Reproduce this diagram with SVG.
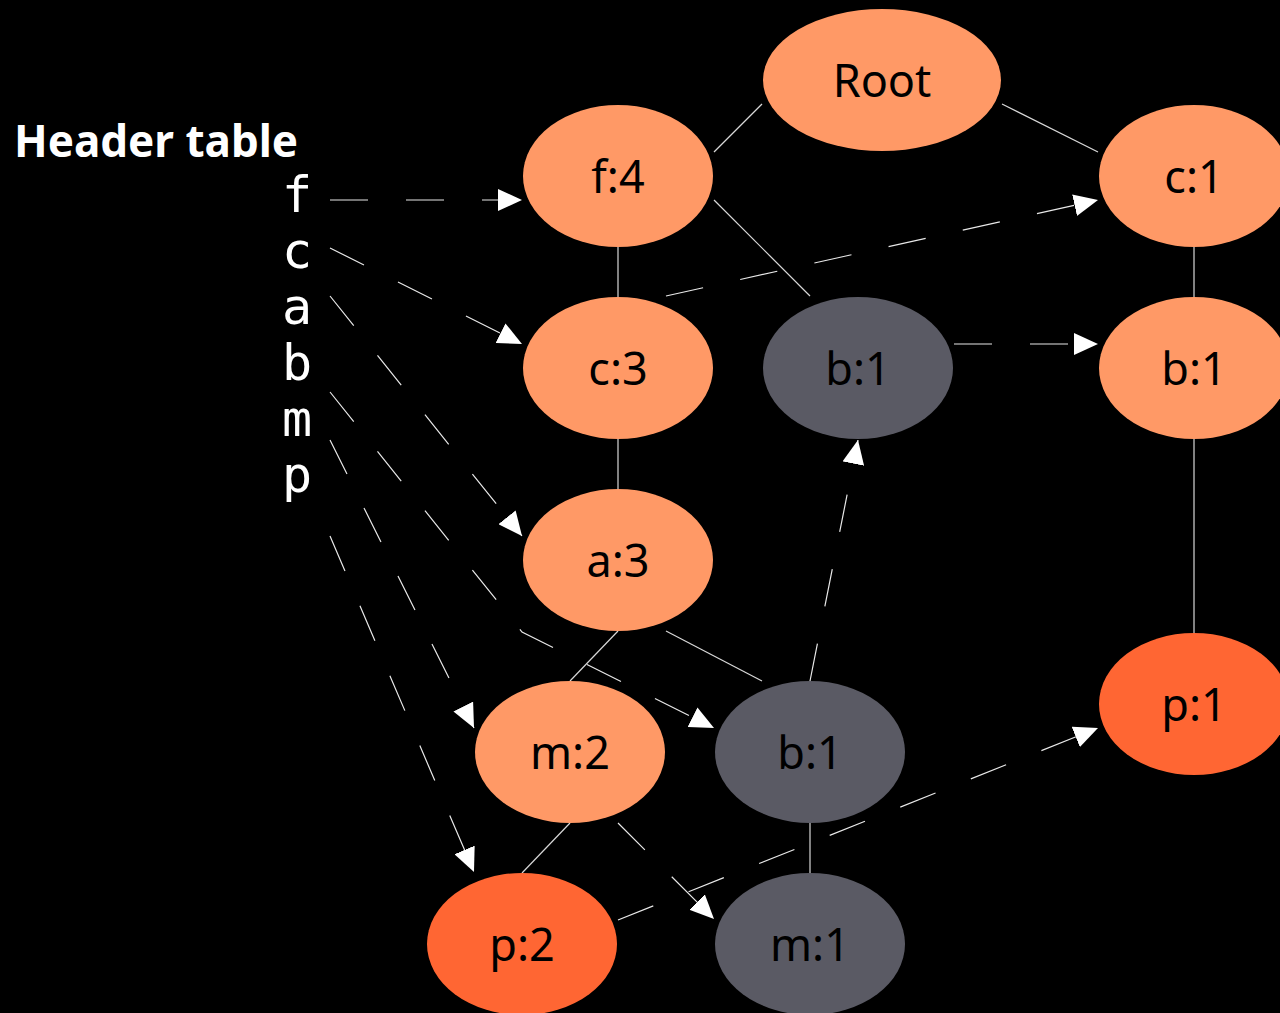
<svg xmlns="http://www.w3.org/2000/svg" width="1280" height="1013" viewBox="0 0 1280 1013">
  <style>
    .item { fill: #FF9966; }
    .leaf { fill: #FF6633; }
    .shadow { fill: #5A5A64; }
    .label { font-family: "Noto Sans", "DejaVu Sans", sans-serif; font-size: 45px; fill: #000; text-anchor: middle; }
    .hdr { font-family: "DejaVu Sans Mono", "Liberation Mono", monospace; font-size: 50px; fill: #fff; text-anchor: middle; }
    .title { font-family: "Noto Sans", "DejaVu Sans", sans-serif; font-size: 44px; font-weight: bold; fill: #fff; }
    .tree { stroke: #d8d8d8; stroke-width: 1.2; fill: none; }
    .link { stroke: #e8e8e8; stroke-width: 1.2; fill: none; stroke-dasharray: 38 38; marker-end: url(#head); }
  </style>
  <defs>
    <marker id="head" markerUnits="userSpaceOnUse" viewBox="0 0 24 22" refX="24" refY="11" markerWidth="24" markerHeight="22" orient="auto">
      <path d="M0,0 L24,11 L0,22 z" fill="#fff"/>
    </marker>
  </defs>

  <rect width="1280" height="1013" fill="#000"/>

  <!-- header table -->
  <g id="header-table">
    <text class="title" x="14" y="157">Header table</text>
    <text class="hdr" x="297" y="212">f</text>
    <text class="hdr" x="297" y="268">c</text>
    <text class="hdr" x="297" y="324">a</text>
    <text class="hdr" x="297" y="380">b</text>
    <text class="hdr" x="297" y="436">m</text>
    <text class="hdr" x="297" y="492">p</text>
  </g>

  <g id="connectors">
    <!-- tree edges -->
    <line class="tree" x1="762" y1="104" x2="714" y2="152"/>
    <line class="tree" x1="1002" y1="104" x2="1098" y2="152"/>
    <line class="tree" x1="714" y1="200" x2="810" y2="296"/>
    <line class="tree" x1="618" y1="247" x2="618" y2="297"/>
    <line class="tree" x1="618" y1="439" x2="618" y2="489"/>
    <line class="tree" x1="618" y1="631" x2="570" y2="681"/>
    <line class="tree" x1="666" y1="631" x2="762" y2="681"/>
    <line class="tree" x1="570" y1="823" x2="522" y2="873"/>
    <line class="tree" x1="810" y1="823" x2="810" y2="873"/>
    <line class="tree" x1="1194" y1="247" x2="1194" y2="297"/>
    <line class="tree" x1="1194" y1="439" x2="1194" y2="633"/>

    <!-- header links -->
    <path class="link" d="M330,200 L522,200"/>
    <path class="link" d="M330,248 L522,344"/>
    <path class="link" d="M330,296 L522,536"/>
    <path class="link" d="M330,392 L522,632 L714,728"/>
    <path class="link" d="M330,440 L474,728"/>
    <path class="link" d="M330,536 L474,872"/>

    <!-- node links -->
    <path class="link" d="M666,296 L1098,200"/>
    <path class="link" d="M954,344 L1098,344"/>
    <path class="link" d="M810,681 L858,440"/>
    <path class="link" d="M618,920 L1098,728"/>
    <path class="link" d="M618,823 L714,919"/>
  </g>

  <g id="root">
    <ellipse class="item" cx="882" cy="80" rx="119" ry="71"/>
    <text class="label" x="882" y="97">Root</text>
  </g>
  <g id="f4">
    <ellipse class="item" cx="618" cy="176" rx="95" ry="71"/>
    <text class="label" x="618" y="193">f:4</text>
  </g>
  <g id="c1">
    <ellipse class="item" cx="1194" cy="176" rx="95" ry="71"/>
    <text class="label" x="1194" y="193">c:1</text>
  </g>
  <g id="c3">
    <ellipse class="item" cx="618" cy="368" rx="95" ry="71"/>
    <text class="label" x="618" y="385">c:3</text>
  </g>
  <g id="b1-mid">
    <ellipse class="shadow" cx="858" cy="368" rx="95" ry="71"/>
    <text class="label" x="858" y="385">b:1</text>
  </g>
  <g id="b1-right">
    <ellipse class="item" cx="1194" cy="368" rx="95" ry="71"/>
    <text class="label" x="1194" y="385">b:1</text>
  </g>
  <g id="a3">
    <ellipse class="item" cx="618" cy="560" rx="95" ry="71"/>
    <text class="label" x="618" y="577">a:3</text>
  </g>
  <g id="p1">
    <ellipse class="leaf" cx="1194" cy="704" rx="95" ry="71"/>
    <text class="label" x="1194" y="721">p:1</text>
  </g>
  <g id="m2">
    <ellipse class="item" cx="570" cy="752" rx="95" ry="71"/>
    <text class="label" x="570" y="769">m:2</text>
  </g>
  <g id="b1-low">
    <ellipse class="shadow" cx="810" cy="752" rx="95" ry="71"/>
    <text class="label" x="810" y="769">b:1</text>
  </g>
  <g id="p2">
    <ellipse class="leaf" cx="522" cy="944" rx="95" ry="71"/>
    <text class="label" x="522" y="961">p:2</text>
  </g>
  <g id="m1">
    <ellipse class="shadow" cx="810" cy="944" rx="95" ry="71"/>
    <text class="label" x="810" y="961">m:1</text>
  </g>
</svg>
